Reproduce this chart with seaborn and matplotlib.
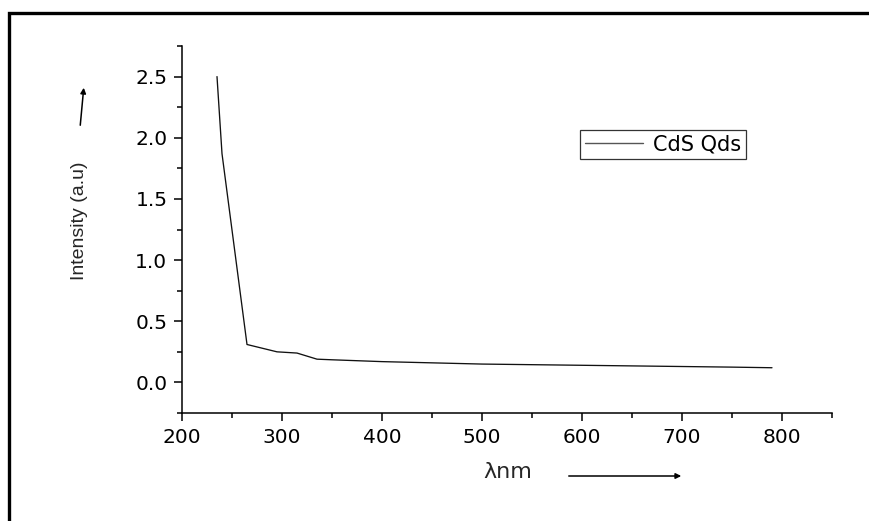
import matplotlib
matplotlib.use("Agg")
import matplotlib.pyplot as plt
import seaborn as sns
import pandas as pd
from matplotlib.patches import Rectangle, FancyArrowPatch
from matplotlib.ticker import MultipleLocator

wavelength = [235, 240, 265, 295, 315, 335, 350, 400, 450, 500, 550, 600, 650, 700, 750, 790]
intensity = [2.50, 1.87, 0.31, 0.25, 0.24, 0.19, 0.185, 0.17, 0.16, 0.15, 0.145, 0.14, 0.135, 0.13, 0.125, 0.12]
series_name = "CdS Qds"
x_ticks = [200, 300, 400, 500, 600, 700, 800]
y_ticks = [0.0, 0.5, 1.0, 1.5, 2.0, 2.5]

sns.set_theme(style="ticks")
plt.rcParams['font.family'] = ['DejaVu Sans']

df = pd.DataFrame({"wavelength": wavelength, "intensity": intensity, "series": series_name})

W, H = 870, 521
fig = plt.figure(figsize=(W / 100, H / 100), dpi=100)
fig.patch.set_facecolor("white")
ax = fig.add_axes([182 / W, 1 - 413 / H, (832 - 182) / W, (413 - 46) / H])

sns.lineplot(data=df, x="wavelength", y="intensity", hue="series", palette=["#111111"],
             linewidth=0.95, ax=ax, legend=True)

ax.set_xlim(200, 850)
ax.set_ylim(-0.25, 2.75)
ax.set_xticks(x_ticks)
ax.set_yticks(y_ticks)
ax.set_xticklabels([str(v) for v in x_ticks])
ax.set_yticklabels([f"{v:.1f}" for v in y_ticks])
ax.xaxis.set_minor_locator(MultipleLocator(50))
ax.yaxis.set_minor_locator(MultipleLocator(0.25))
ax.tick_params(axis="both", which="major", direction="out", length=6, width=1.1,
               labelsize=14.5, color="black", labelcolor="black", pad=4.5)
ax.tick_params(axis="both", which="minor", direction="out", length=3.3, width=1.1, color="black")
for s in ["top", "right"]:
    ax.spines[s].set_visible(False)
for s in ["left", "bottom"]:
    ax.spines[s].set_linewidth(1.1)
    ax.spines[s].set_color("black")
ax.set_xlabel("")
ax.set_ylabel("")
ax.set_facecolor("white")

leg = ax.legend(loc="upper left", bbox_to_anchor=((580 - 182) / 650, (413 - 130) / 367),
                frameon=True, fancybox=False, edgecolor="black", fontsize=15,
                handlelength=2.8, borderpad=0.22, handletextpad=0.5, borderaxespad=0)
leg.get_frame().set_linewidth(0.9)
for h in leg.get_lines():
    h.set_color("#555555")
    h.set_linewidth(1.0)
for t in leg.get_texts():
    t.set_color("black")

# y label and arrow
fig.text(79 / W, 1 - 221 / H, "Intensity (a.u)", rotation=90, ha="center", va="center",
         fontsize=14, family=['Liberation Sans', 'DejaVu Sans'])
fig.patches.append(FancyArrowPatch((80 / W, 1 - 128 / H), (84 / W, 1 - 85 / H),
                                   transform=fig.transFigure, arrowstyle="-|>",
                                   mutation_scale=8, linewidth=1.1, color="black"))
# x label and arrow
fig.text(508 / W, 1 - 472 / H, "λnm", ha="center", va="center", fontsize=16)
fig.patches.append(FancyArrowPatch((566 / W, 1 - 476 / H), (684 / W, 1 - 476 / H),
                                   transform=fig.transFigure, arrowstyle="-|>",
                                   mutation_scale=8, linewidth=1.1, color="black"))

# outer border (cropped on right and bottom)
fig.patches.append(Rectangle((9.5 / W, -0.1), 1.2, 1 - 12.5 / H + 0.1, transform=fig.transFigure,
                             fill=False, edgecolor="black", linewidth=2.4, zorder=0))

fig.savefig("out.png", dpi=100, facecolor="white")
